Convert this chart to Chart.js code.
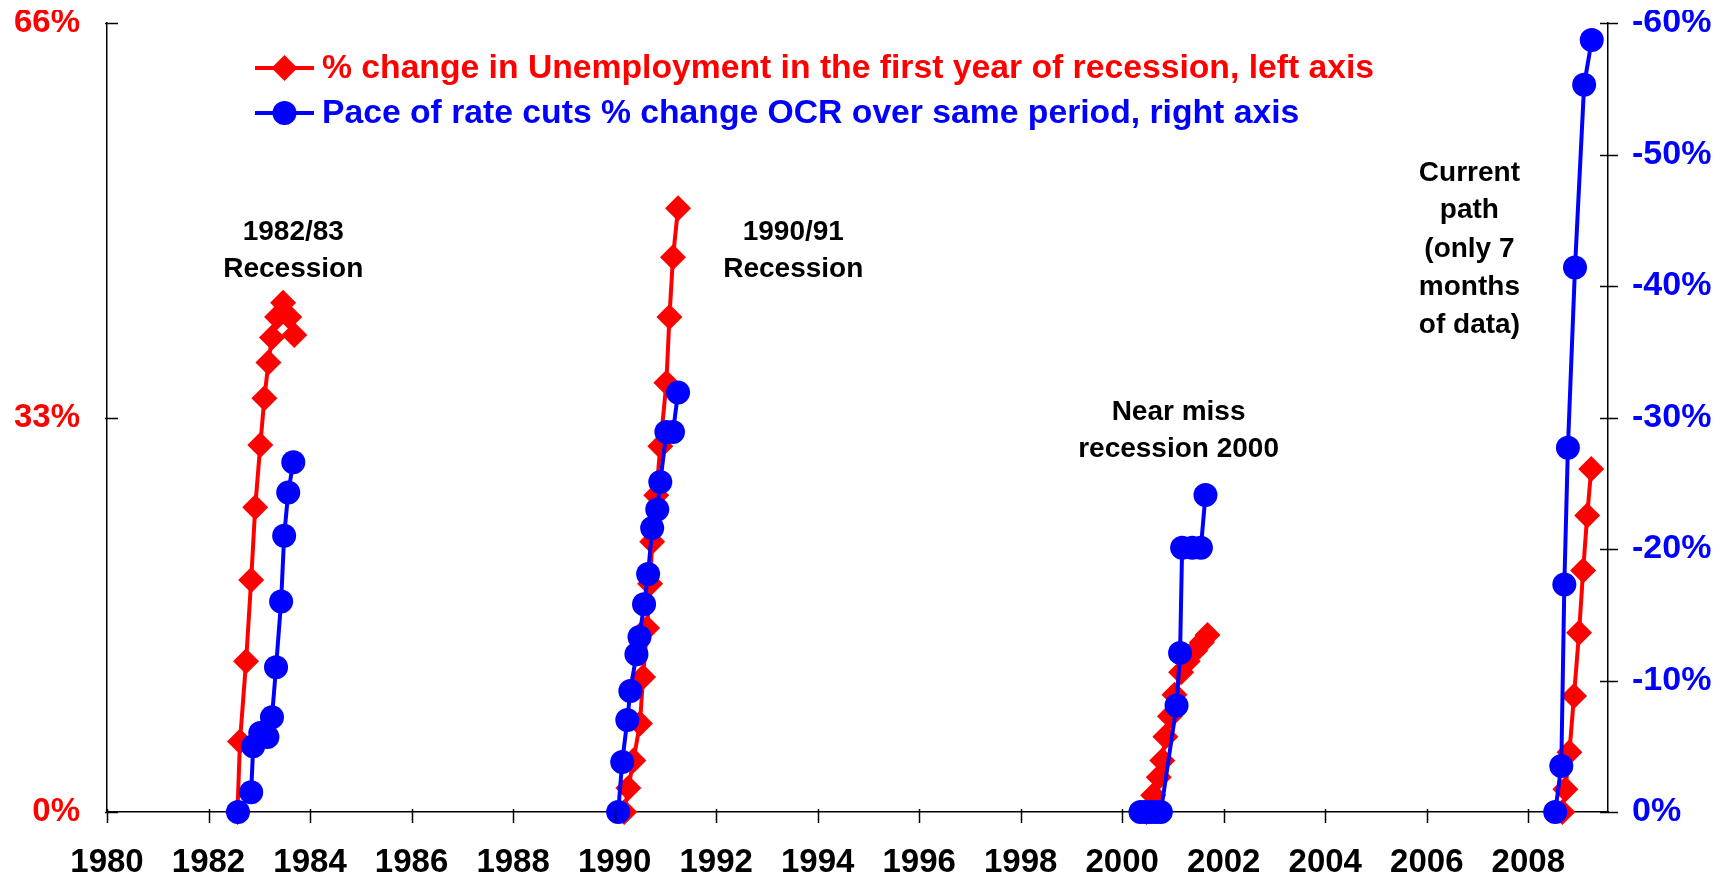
<!DOCTYPE html>
<html>
<head>
<meta charset="utf-8">
<script src="https://cdn.jsdelivr.net/npm/chart.js@4"></script>
<style>
  html, body { margin: 0; padding: 0; background: #fff; }
  #wrap { width: 1727px; height: 868px; position: absolute; left: 0; top: 10px; }
</style>
</head>
<body>
<div id="wrap"><canvas id="mainChart"></canvas></div>
<script>
// x axis ticks (years) and y axis ticks
const yearTicks = [1980, 1982, 1984, 1986, 1988, 1990, 1992, 1994, 1996, 1998, 2000, 2002, 2004, 2006, 2008];
const leftTicks = [0, 33, 66];
const rightTicks = [0, -10, -20, -30, -40, -50, -60];

// 1982/83 recession
const unempDates8283 = [1982.57, 1982.62, 1982.74, 1982.84, 1982.92, 1983.02, 1983.10, 1983.18, 1983.25, 1983.35, 1983.47, 1983.59, 1983.69];
const unemp8283 = [0, 5.9, 12.6, 19.4, 25.5, 30.7, 34.6, 37.6, 39.7, 41.4, 42.6, 41.4, 39.9];
const ocrDates8283 = [1982.58, 1982.84, 1982.88, 1983.02, 1983.16, 1983.25, 1983.33, 1983.43, 1983.49, 1983.57, 1983.67];
const ocr8283 = [0, -1.5, -5.0, -6.0, -5.7, -7.2, -11.0, -16.0, -21.0, -24.3, -26.6];

// 1990/91 recession
const unempDates9091 = [1990.19, 1990.27, 1990.37, 1990.50, 1990.56, 1990.64, 1990.70, 1990.74, 1990.82, 1990.90, 1991.02, 1991.08, 1991.15, 1991.25];
const unemp9091 = [0, 2.0, 4.3, 7.4, 11.3, 15.4, 19.1, 22.6, 26.5, 30.6, 35.9, 41.4, 46.4, 50.5];
const ocrDates9091 = [1990.07, 1990.15, 1990.25, 1990.31, 1990.43, 1990.49, 1990.58, 1990.66, 1990.74, 1990.84, 1990.90, 1991.02, 1991.15, 1991.25];
const ocr9091 = [0, -3.8, -7.0, -9.2, -12.0, -13.3, -15.8, -18.1, -21.6, -23.0, -25.1, -28.9, -28.9, -31.9];

// 2000 near miss
const unempDates2000 = [2000.48, 2000.61, 2000.72, 2000.79, 2000.85, 2000.94, 2001.03, 2001.16, 2001.29, 2001.44, 2001.57, 2001.68];
const unemp2000 = [0, 1.4, 2.9, 4.3, 6.3, 8.0, 9.8, 11.7, 12.6, 13.5, 14.2, 14.8];
const ocrDates2000 = [2000.36, 2000.46, 2000.56, 2000.66, 2000.76, 2001.07, 2001.14, 2001.18, 2001.38, 2001.55, 2001.64];
const ocr2000 = [0, 0, 0, 0, 0, -8.1, -12.1, -20.1, -20.1, -20.1, -24.1];

// current path
const unempDates2008 = [2008.67, 2008.73, 2008.81, 2008.90, 2009.00, 2009.08, 2009.16, 2009.24];
const unemp2008 = [0, 1.9, 5.0, 9.7, 15.0, 20.2, 24.8, 28.7];
const ocrDates2008 = [2008.53, 2008.65, 2008.71, 2008.78, 2008.92, 2009.10, 2009.25];
const ocr2008 = [0, -3.5, -17.3, -27.7, -41.4, -55.3, -58.7];

const legendLabels = [
  '% change in Unemployment in the first year of recession, left axis',
  'Pace of rate cuts % change OCR over same period, right axis'
];

// text notes, placed in data units (x = year, y = left axis %)
const notes = [
  { x: 1983.67, y: [48.5, 45.4], text: ['1982/83', 'Recession'] },
  { x: 1993.52, y: [48.5, 45.4], text: ['1990/91', 'Recession'] },
  { x: 2001.11, y: [33.4, 30.3], text: ['Near miss', 'recession 2000'] },
  { x: 2006.84, y: [53.4, 50.3, 47.1, 43.9, 40.7], text: ['Current', 'path', '(only 7', 'months', 'of data)'] }
];

const RED = '#ff0000';
const BLUE = '#0000ff';
const FONT = '"Liberation Sans", Arial, sans-serif';

// join episodes into one line, with a gap between each
function joinEpisodes(pairs) {
  const out = [];
  pairs.forEach(function(p, i) {
    p[0].forEach(function(x, j) { out.push({ x: x, y: p[1][j] }); });
    if (i < pairs.length - 1) out.push({ x: p[0][p[0].length - 1], y: null });
  });
  return out;
}

const unempData = joinEpisodes([[unempDates8283, unemp8283], [unempDates9091, unemp9091], [unempDates2000, unemp2000], [unempDates2008, unemp2008]]);
const ocrData = joinEpisodes([[ocrDates8283, ocr8283], [ocrDates9091, ocr9091], [ocrDates2000, ocr2000], [ocrDates2008, ocr2008]]);

function pct(v) { return v + '%'; }

const extras = {
  id: 'extras',
  afterDraw: function(chart) {
    const c = chart.ctx;
    const area = chart.chartArea;
    const sx = chart.scales.x, yl = chart.scales.y, yr = chart.scales.y1;
    c.save();
    c.strokeStyle = '#000';
    c.lineWidth = 1.5;
    // tick marks crossing the axes
    c.beginPath();
    yearTicks.forEach(function(v) {
      const px = Math.round(sx.getPixelForValue(v)) + 0.5;
      c.moveTo(px, area.bottom - 3); c.lineTo(px, area.bottom + 11);
    });
    leftTicks.forEach(function(v) {
      const py = Math.round(yl.getPixelForValue(v)) + 0.5;
      c.moveTo(area.left - 2, py); c.lineTo(area.left + 11, py);
    });
    rightTicks.forEach(function(v) {
      const py = Math.round(yr.getPixelForValue(v)) + 0.5;
      c.moveTo(area.right - 8, py); c.lineTo(area.right + 10, py);
    });
    c.stroke();

    // notes
    c.fillStyle = '#000';
    c.font = 'bold 28px ' + FONT;
    c.textAlign = 'center';
    c.textBaseline = 'middle';
    notes.forEach(function(n) {
      n.text.forEach(function(t, i) {
        c.fillText(t, sx.getPixelForValue(n.x), yl.getPixelForValue(n.y[i]));
      });
    });

    // legend (canvas sits 10px down the page)
    const rows = [
      { color: RED, style: 'diamond', y: 58 },
      { color: BLUE, style: 'circle', y: 103 }
    ];
    c.textAlign = 'left';
    c.font = 'bold 33.7px ' + FONT;
    rows.forEach(function(r, i) {
      c.strokeStyle = r.color;
      c.fillStyle = r.color;
      c.lineWidth = 4;
      c.beginPath();
      c.moveTo(255, r.y); c.lineTo(314, r.y);
      c.stroke();
      c.beginPath();
      if (r.style === 'diamond') {
        c.moveTo(284.5 - 13, r.y); c.lineTo(284.5, r.y - 13); c.lineTo(284.5 + 13, r.y); c.lineTo(284.5, r.y + 13);
        c.closePath();
      } else {
        c.arc(284.5, r.y, 12, 0, Math.PI * 2);
      }
      c.fill();
      c.fillText(legendLabels[i], 322, r.y + 1);
    });
    c.restore();
  }
};

new Chart(document.getElementById('mainChart'), {
  type: 'line',
  data: {
    datasets: [{
      label: legendLabels[0],
      data: unempData,
      yAxisID: 'y',
      borderColor: RED,
      backgroundColor: RED,
      borderWidth: 4,
      pointStyle: 'rectRot',
      pointRadius: 13,
      pointBorderWidth: 0,
      spanGaps: false,
      clip: false,
      order: 2
    }, {
      label: legendLabels[1],
      data: ocrData,
      yAxisID: 'y1',
      borderColor: BLUE,
      backgroundColor: BLUE,
      borderWidth: 4,
      pointStyle: 'circle',
      pointRadius: 12,
      pointBorderWidth: 0,
      spanGaps: false,
      clip: false,
      order: 1
    }]
  },
  options: {
    responsive: true,
    maintainAspectRatio: false,
    animation: false,
    layout: { padding: 0 },
    plugins: {
      legend: { display: false },
      tooltip: { enabled: false }
    },
    scales: {
      x: {
        type: 'linear',
        min: 1980,
        max: 2009.57,
        afterBuildTicks: function(s) { s.ticks = yearTicks.map(function(v) { return { value: v }; }); },
        afterFit: function(s) { s.height = 66; },
        grid: { display: false, drawTicks: false },
        border: { display: true, color: '#000', width: 1.5 },
        ticks: {
          color: '#000',
          padding: 31,
          maxRotation: 0,
          autoSkip: false,
          font: { family: FONT, size: 33, weight: 'bold' },
          callback: function(v) { return String(v); }
        }
      },
      y: {
        position: 'left',
        min: 0,
        max: 66,
        afterBuildTicks: function(s) { s.ticks = leftTicks.map(function(v) { return { value: v }; }); },
        afterFit: function(s) { s.width = 107; s.paddingTop = 0; },
        grid: { display: false, drawTicks: false },
        border: { display: true, color: '#000', width: 1.5 },
        ticks: {
          color: RED,
          padding: 27,
          font: { family: FONT, size: 33, weight: 'bold' },
          callback: pct
        }
      },
      y1: {
        position: 'right',
        min: -60,
        max: 0,
        reverse: true,
        afterBuildTicks: function(s) { s.ticks = rightTicks.map(function(v) { return { value: v }; }); },
        afterFit: function(s) { s.width = 119; s.paddingTop = 0; },
        grid: { display: false, drawTicks: false },
        border: { display: true, color: '#000', width: 1.5 },
        ticks: {
          color: BLUE,
          padding: 24,
          font: { family: FONT, size: 34, weight: 'bold' },
          callback: pct
        }
      }
    }
  },
  plugins: [extras]
});
</script>
</body>
</html>
